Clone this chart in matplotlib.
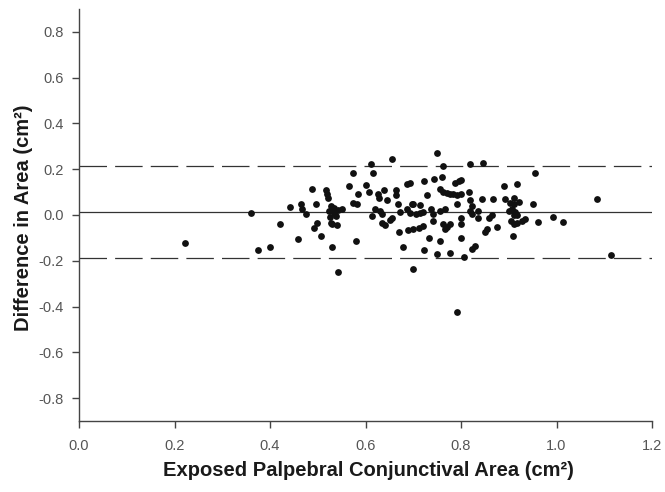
import matplotlib
matplotlib.use("Agg")
import matplotlib.pyplot as plt

# Data (Bland-Altman style plot)
area_x = [0.222, 0.360, 0.375, 0.399, 0.421, 0.459, 0.442, 0.464, 0.468, 0.475,
          0.487, 0.496, 0.499, 0.492, 0.506, 0.529, 0.580, 0.542, 0.655, 0.611,
          0.616, 0.573, 0.566, 0.601, 0.585, 0.608, 0.627, 0.639, 0.629, 0.644,
          0.664, 0.664, 0.669, 0.686, 0.693, 0.699, 0.517, 0.519, 0.522, 0.527,
          0.533, 0.524, 0.534, 0.543, 0.550, 0.538, 0.526, 0.527, 0.529, 0.540,
          0.574, 0.582, 0.613, 0.620, 0.630, 0.634, 0.634, 0.641, 0.651, 0.655,
          0.672, 0.686, 0.671, 0.678, 0.690, 0.700, 0.711, 0.706, 0.714, 0.749,
          0.762, 0.819, 0.847, 0.723, 0.743, 0.760, 0.787, 0.796, 0.801, 0.757,
          0.763, 0.770, 0.777, 0.784, 0.792, 0.799, 0.728, 0.817, 0.697, 0.714,
          0.791, 0.819, 0.822, 0.845, 0.866, 0.890, 0.917, 0.892, 0.903, 0.910,
          0.693, 0.721, 0.738, 0.742, 0.756, 0.766, 0.741, 0.720, 0.763, 0.771,
          0.776, 0.766, 0.799, 0.801, 0.819, 0.836, 0.836, 0.822, 0.859, 0.864,
          0.850, 0.854, 0.876, 0.901, 0.906, 0.913, 0.918, 0.910, 0.905, 0.910,
          0.917, 0.927, 0.934, 0.732, 0.755, 0.799, 0.723, 0.750, 0.776, 0.806,
          0.822, 0.829, 0.909, 0.955, 0.910, 0.922, 0.951, 1.085, 0.961, 0.993,
          1.013, 1.115, 0.700, 0.791]
diff_y = [-0.124, 0.007, -0.154, -0.140, -0.038, -0.106, 0.036, 0.047, 0.025, 0.006,
          0.115, 0.047, -0.034, -0.058, -0.092, -0.138, -0.113, -0.248, 0.243, 0.224,
          0.182, 0.185, 0.125, 0.131, 0.093, 0.102, 0.093, 0.108, 0.073, 0.064,
          0.108, 0.087, 0.047, 0.134, 0.141, 0.047, 0.108, 0.090, 0.076, 0.039,
          0.032, 0.017, 0.010, 0.021, 0.028, -0.004, -0.009, -0.034, -0.041, -0.044,
          0.054, 0.047, -0.004, 0.025, 0.017, 0.006, -0.034, -0.044, -0.023, -0.012,
          0.014, 0.025, -0.073, -0.140, -0.067, -0.063, -0.058, 0.003, 0.010, 0.269,
          0.214, 0.221, 0.228, 0.148, 0.159, 0.167, 0.141, 0.148, 0.151, 0.112,
          0.102, 0.098, 0.093, 0.090, 0.087, 0.093, 0.087, 0.100, 0.049, 0.044,
          0.047, 0.064, 0.039, 0.068, 0.068, 0.127, 0.137, 0.068, 0.054, 0.047,
          0.010, 0.014, 0.025, 0.003, 0.017, 0.025, -0.026, -0.048, -0.041, -0.052,
          -0.038, -0.062, -0.012, -0.041, 0.017, 0.017, -0.012, 0.003, -0.012, 0.000,
          -0.073, -0.063, -0.052, 0.017, 0.025, 0.014, 0.000, 0.002, -0.026, -0.038,
          -0.034, -0.026, -0.019, -0.099, -0.114, -0.102, -0.154, -0.172, -0.165, -0.183,
          -0.150, -0.135, -0.093, 0.182, 0.073, 0.058, 0.049, 0.068, -0.031, -0.009,
          -0.029, -0.175, -0.237, -0.424]

mean_diff = 0.014
upper_loa = 0.214
lower_loa = -0.188

x_ticks = [0.0, 0.2, 0.4, 0.6, 0.8, 1.0, 1.2]
y_ticks = [-0.8, -0.6, -0.4, -0.2, 0.0, 0.2, 0.4, 0.6, 0.8]

plt.rcParams['font.family'] = ['Liberation Sans', 'DejaVu Sans']

fig = plt.figure(figsize=(6.65, 4.92), dpi=100)
ax = fig.add_axes([79/665, 1 - 421/492, (652 - 79)/665, (421 - 9)/492])

ax.axhline(mean_diff, color='#333333', lw=0.9)
ax.axhline(upper_loa, color='#333333', lw=0.9, linestyle=(0, (22, 6.5)))
ax.axhline(lower_loa, color='#333333', lw=0.9, linestyle=(0, (22, 6.5)))

ax.scatter(area_x, diff_y, s=24, c='#111111', marker='o', linewidths=0, zorder=3)

ax.set_xlim(0.0, 1.2)
ax.set_ylim(-0.9, 0.9)
ax.set_xticks(x_ticks)
ax.set_xticklabels([f"{t:.1f}" for t in x_ticks])
ax.set_yticks(y_ticks)
ax.set_yticklabels([f"{t:.1f}" for t in y_ticks])

for s in ['top', 'right']:
    ax.spines[s].set_visible(False)
for s in ['left', 'bottom']:
    ax.spines[s].set_color('#444444')
    ax.spines[s].set_linewidth(1.0)

ax.tick_params(axis='both', direction='out', length=5, width=1.0, color='#444444',
               labelsize=10.5, labelcolor='#555555')
ax.tick_params(axis='y', pad=6)
ax.tick_params(axis='x', pad=8)

ax.set_xlabel('Exposed Palpebral Conjunctival Area (cm²)', fontsize=14.5,
              fontweight='bold', color='#1a1a1a', va='center')
ax.set_ylabel('Difference in Area (cm²)', fontsize=14.5,
              fontweight='bold', color='#1a1a1a', va='center')
ax.xaxis.set_label_coords(0.505, (421 - 470) / 412)
ax.yaxis.set_label_coords((24 - 79) / 573, (421 - 218) / 412)

fig.savefig('out.png', dpi=100)
